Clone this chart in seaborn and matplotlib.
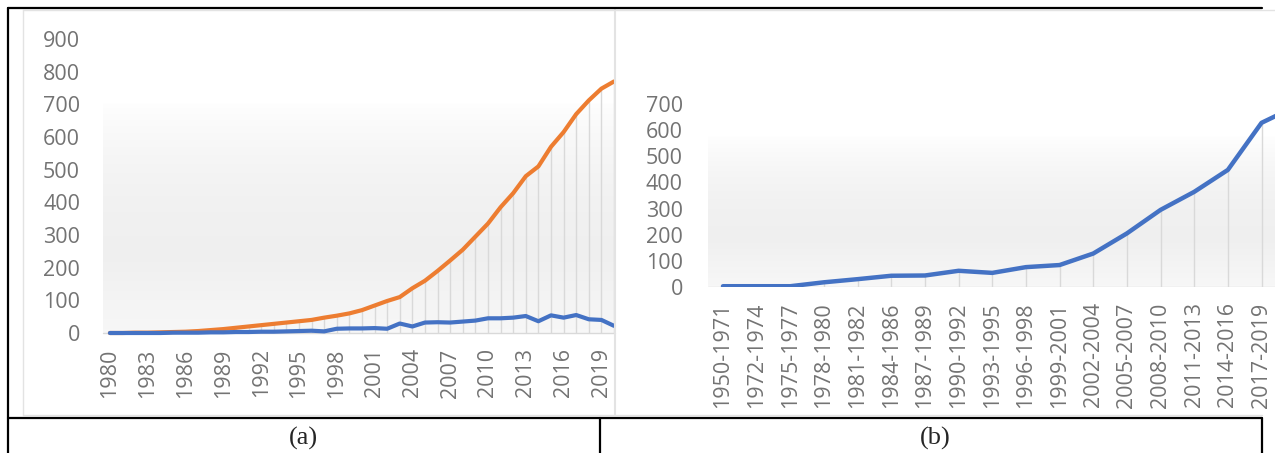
import numpy as np
import pandas as pd
import matplotlib.pyplot as plt
import seaborn as sns
from matplotlib.lines import Line2D

# ---- data ----
years = list(range(1980, 2021))
total_vals = [0, 0, 1, 1, 2, 3, 4, 6, 9, 12,
              16, 20, 24, 28, 32, 36, 40, 47, 53, 60,
              70, 84, 98, 110, 137, 160, 190, 222, 255, 295,
              335, 385, 428, 480, 510, 570, 615, 670, 712, 748,
              770]
yearly_vals = [0, 0, 0, 0, 0, 1, 1, 1, 2, 2,
               3, 3, 4, 4, 5, 6, 7, 5, 13, 14,
               14, 15, 13, 29, 20, 32, 33, 32, 35, 38,
               45, 45, 47, 52, 36, 54, 47, 55, 42, 40,
               22]

# the last period is cropped off in the picture (only its line segment shows)
periods = ['1950-1971', '1972-1974', '1975-1977', '1978-1980', '1981-1982',
           '1984-1986', '1987-1989', '1990-1992', '1993-1995', '1996-1998',
           '1999-2001', '2002-2004', '2005-2007', '2008-2010', '2011-2013',
           '2014-2016', '2017-2019', '2020-2021']
period_vals = [3, 3, 3, 18, 30, 43, 44, 62, 54, 76,
               84, 128, 205, 295, 364, 448, 628, 690]

ORANGE = '#ED7D31'
BLUE = '#4472C4'
GREY_TXT = '#737373'
GRID = '#d9d9d9'

sns.set_style('white')
plt.rcParams['font.family'] = ['Open Sans', 'DejaVu Sans']

W, H = 1275, 453
fig = plt.figure(figsize=(W / 100, H / 100), dpi=100)


def px_axes(left, top, right, bottom):
    return fig.add_axes([left / W, 1 - bottom / H, (right - left) / W, (bottom - top) / H])


def gradient(ax, fade_top):
    f = np.linspace(0, 1, 200)[:, None]
    v = np.where(f > fade_top, 1.0,
                 0.94 + 0.055 * np.clip((f - 0.25) / (fade_top - 0.25), 0, 1) ** 2)
    v = np.where(f < 0.25, 0.94 + 0.03 * (0.25 - f) / 0.25, v)
    img = np.dstack([v, v, v]) * np.ones((1, 10, 1))
    ax.imshow(img, extent=[0, 1, 0, 1], transform=ax.transAxes, origin='lower',
              aspect='auto', zorder=0, interpolation='bilinear')


# ---- panel (a) ----
df_a = pd.DataFrame({'year': years, 'total': total_vals, 'yearly': yearly_vals})
ax1 = px_axes(103, 39, 615, 333)
gradient(ax1, 0.78)
ax1.vlines(df_a['year'], 0, df_a[['total', 'yearly']].max(axis=1), color=GRID, lw=1, zorder=1)
ax1.axhline(0, color=GRID, lw=1, zorder=1)
sns.lineplot(data=df_a, x='year', y='total', color=ORANGE, lw=3, ax=ax1, zorder=3)
sns.lineplot(data=df_a, x='year', y='yearly', color=BLUE, lw=3, ax=ax1, zorder=4)
ax1.set_yticks(range(0, 901, 100))
ax1.set_xticks(years[::3])
ax1.set_xticklabels([str(y) for y in years[::3]], rotation=90)
ax1.set_xlim(1979.45, 2020.08)
ax1.set_ylim(0, 900)
ax1.tick_params(axis='y', length=0, pad=16.5, labelsize=15.5, labelcolor=GREY_TXT)
ax1.tick_params(axis='x', length=0, pad=11, labelsize=15.5, labelcolor=GREY_TXT)
ax1.set_xlabel('')
ax1.set_ylabel('')
sns.despine(ax=ax1, left=True, bottom=True)
for ln in ax1.lines:
    ln.set_clip_on(False)

# ---- panel (b) ----
pos = np.arange(len(periods))
df_b = pd.DataFrame({'pos': pos, 'period': periods, 'count': period_vals})
ax2 = px_axes(708, 104, 1275, 287)
gradient(ax2, 0.82)
ax2.vlines(df_b['pos'], 0, df_b['count'], color=GRID, lw=1, zorder=1)
ax2.axhline(0, color=GRID, lw=1, zorder=1)
sns.lineplot(data=df_b, x='pos', y='count', color=BLUE, lw=3.2, ax=ax2, zorder=3)
shown = df_b.iloc[:-1]
ax2.set_yticks(range(0, 701, 100))
ax2.set_xticks(shown['pos'])
ax2.set_xticklabels(shown['period'], rotation=90)
ax2.set_xlim(-0.445, 16.4)
ax2.set_ylim(0, 700)
ax2.tick_params(axis='y', length=0, pad=18, labelsize=15.5, labelcolor=GREY_TXT)
ax2.tick_params(axis='x', length=0, pad=11, labelsize=15.5, labelcolor=GREY_TXT)
ax2.set_xlabel('')
ax2.set_ylabel('')
sns.despine(ax=ax2, left=True, bottom=True)


# ---- chart frames and table borders ----
def hline(y, x0, x1, color, lw):
    fig.add_artist(Line2D([x0 / W, x1 / W], [1 - y / H, 1 - y / H], color=color, lw=lw))


def vline(x, y0, y1, color, lw):
    fig.add_artist(Line2D([x / W, x / W], [1 - y0 / H, 1 - y1 / H], color=color, lw=lw))


hline(10, 23, 1275, '#e3e3e3', 1)
hline(415, 23, 1262, '#e3e3e3', 1)
vline(23, 10, 415, '#e3e3e3', 1)
vline(615, 10, 415, '#e3e3e3', 1.5)

hline(8, 8, 1262, 'black', 1.6)
hline(418, 8, 1262, 'black', 1.6)
vline(8, 8, 453, 'black', 1.6)
vline(600, 418, 453, 'black', 1.6)
vline(1262, 418, 453, 'black', 1.6)

fig.text(303 / W, 1 - 438 / H, '(a)', ha='center', va='center',
         family='Liberation Serif', fontsize=19)
fig.text(935 / W, 1 - 438 / H, '(b)', ha='center', va='center',
         family='Liberation Serif', fontsize=19)

fig.savefig('out.png', dpi=100)
